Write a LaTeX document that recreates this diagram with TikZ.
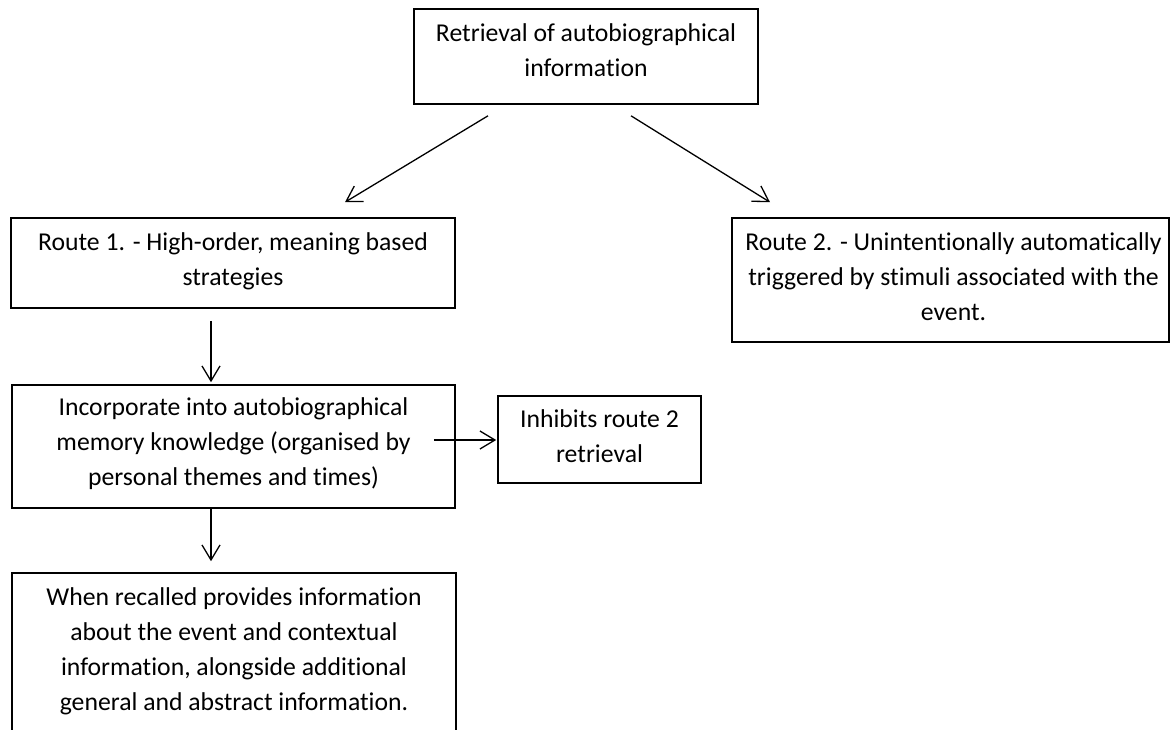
\documentclass[tikz,border=0pt]{standalone}
\usepackage{fontspec}
\setmainfont{Carlito}[Ligatures={NoCommon}]
\usetikzlibrary{arrows.meta,calc}
\tikzset{
  box/.style={draw=black, line width=1.6pt, rectangle, inner sep=0pt},
  txt/.style={anchor=north, inner sep=0pt, align=center,
              font=\fontsize{25.7}{35}\selectfont},
  flow/.style={line width=1.3pt,
               -{Straight Barb[length=15pt,width=18pt,line width=1.3pt]}}
}
\begin{document}
\begin{tikzpicture}[x=1pt,y=-1pt]
\useasboundingbox (0,0) rectangle (1170,729);
\clip (0,0) rectangle (1170,729);
\fill[white] (0,0) rectangle (1170,729);

% frames
\node[box, minimum width=344pt, minimum height=95pt]  (retr) at (586,56.5)   {};
\node[box, minimum width=444pt, minimum height=90pt]  (r1)   at (233,263)    {};
\node[box, minimum width=437pt, minimum height=124pt] (r2)   at (950.5,280)  {};
\node[box, minimum width=443pt, minimum height=123pt] (inc)  at (233.5,446.5) {};
\node[box, minimum width=203pt, minimum height=87pt]  (inh)  at (599.5,439.5) {};
\node[box, minimum width=444pt, minimum height=200pt] (rec)  at (234,673)    {};

% texts, set from the top of each frame
\node[txt] (retrT) at ($(retr.north)+(0,9)$) {\strut Retrieval of autobiographical\\information};
\node[txt] (r1T)   at ($(r1.north)+(0,9)$)   {\strut Route 1. - High-order, meaning based\\strategies};
\node[txt] (r2T)   at ($(r2.north)+(3,9)$)   {\strut Route 2. - Unintentionally automatically\\triggered by stimuli associated with the\\event.};
\node[txt] (incT)  at ($(inc.north)+(0,7)$)  {\strut Incorporate into autobiographical\\memory knowledge (organised by\\personal themes and times)};
\node[txt] (inhT)  at ($(inh.north)+(0,8)$)  {\strut Inhibits route 2\\retrieval};
\node[txt] (recT)  at ($(rec.north)+(0,9)$)  {\strut When recalled provides information\\about the event and contextual\\information, alongside additional\\general and abstract information.};

% connectors
\draw[flow] ($(retr.south)+(-98,11)$) -- ($(r1.north)+(112,-15)$);
\draw[flow] ($(retr.south)+(45,11)$)  -- ($(r2.north)+(-180.5,-15)$);
\draw[flow] ($(r1.south)+(-22,12)$)   -- ($(inc.north)+(-22.5,-2)$);
\draw[flow] ($(inc.south)+(-22.5,0)$) -- ($(rec.north)+(-23,-11)$);
\draw[flow] ($(inc.east)+(-22,-6.5)$) -- ($(inh.west)+(-1,0.5)$);
\end{tikzpicture}
\end{document}
